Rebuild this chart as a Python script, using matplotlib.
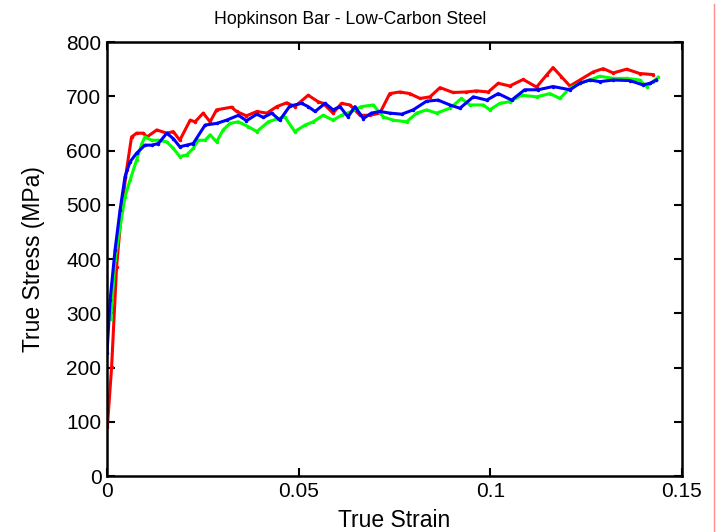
import matplotlib
matplotlib.use("Agg")
import matplotlib.pyplot as plt
from matplotlib.lines import Line2D

plt.rcParams["font.family"] = ["Liberation Sans", "DejaVu Sans"]

# traced curves: true strain / true stress (MPa)
red_strain = [0.0001, 0.0012, 0.0025, 0.0038, 0.0051, 0.0064, 0.0077, 0.0095, 0.0104,
              0.0130, 0.0156, 0.0173, 0.0190, 0.0217, 0.0230, 0.0251, 0.0269, 0.0286,
              0.0325, 0.0338, 0.0364, 0.0391, 0.0417, 0.0443, 0.0469, 0.0490, 0.0525,
              0.0551, 0.0564, 0.0590, 0.0612, 0.0634, 0.0660, 0.0686, 0.0712, 0.0738,
              0.0764, 0.0790, 0.0817, 0.0843, 0.0869, 0.0903, 0.0938, 0.0964, 0.0995,
              0.1021, 0.1051, 0.1086, 0.1121, 0.1147, 0.1164, 0.1186, 0.1208, 0.1234,
              0.1269, 0.1295, 0.1321, 0.1356, 0.1390, 0.1425]
red_stress = [91, 201, 386, 490, 564, 625, 632, 632, 625,
              638, 632, 635, 619, 656, 653, 669, 653, 675,
              680, 672, 664, 672, 669, 681, 688, 681, 702,
              690, 687, 669, 687, 684, 665, 665, 669, 705,
              708, 705, 696, 699, 716, 707, 708, 710, 708,
              724, 719, 731, 717, 739, 753, 736, 719, 730,
              745, 751, 743, 750, 742, 740]

green_strain = [0.0010, 0.0021, 0.0034, 0.0047, 0.0060, 0.0077, 0.0091, 0.0099, 0.0117,
                0.0134, 0.0156, 0.0173, 0.0190, 0.0208, 0.0225, 0.0238, 0.0256, 0.0269,
                0.0286, 0.0303, 0.0321, 0.0343, 0.0369, 0.0391, 0.0421, 0.0447, 0.0464,
                0.0490, 0.0517, 0.0538, 0.0564, 0.0590, 0.0612, 0.0638, 0.0664, 0.0695,
                0.0721, 0.0747, 0.0782, 0.0808, 0.0834, 0.0860, 0.0895, 0.0925, 0.0947,
                0.0982, 0.0999, 0.1025, 0.1051, 0.1082, 0.1121, 0.1156, 0.1182, 0.1208,
                0.1234, 0.1260, 0.1286, 0.1321, 0.1356, 0.1390, 0.1408, 0.1425, 0.1438]
green_stress = [290, 398, 459, 515, 545, 582, 613, 625, 619,
                619, 616, 604, 589, 592, 604, 619, 619, 629,
                616, 638, 650, 653, 644, 635, 653, 659, 662,
                635, 647, 653, 665, 656, 665, 672, 681, 684,
                662, 656, 653, 669, 675, 669, 678, 696, 684,
                684, 675, 687, 690, 702, 699, 705, 696, 715,
                724, 730, 737, 733, 733, 730, 718, 727, 735]

blue_strain = [0.0000, 0.0008, 0.0021, 0.0034, 0.0047, 0.0060, 0.0077, 0.0099, 0.0117,
               0.0134, 0.0156, 0.0173, 0.0190, 0.0208, 0.0225, 0.0256, 0.0286, 0.0312,
               0.0343, 0.0364, 0.0391, 0.0408, 0.0430, 0.0451, 0.0477, 0.0508, 0.0525,
               0.0543, 0.0569, 0.0590, 0.0608, 0.0629, 0.0647, 0.0669, 0.0690, 0.0712,
               0.0738, 0.0769, 0.0799, 0.0834, 0.0864, 0.0895, 0.0921, 0.0956, 0.0991,
               0.1021, 0.1056, 0.1090, 0.1125, 0.1164, 0.1208, 0.1234, 0.1260, 0.1286,
               0.1321, 0.1364, 0.1399, 0.1417, 0.1434]
blue_stress = [227, 324, 417, 490, 552, 579, 595, 610, 610,
               613, 632, 622, 607, 610, 613, 647, 650, 656,
               665, 655, 667, 661, 669, 656, 682, 687, 681,
               672, 687, 675, 681, 662, 681, 659, 669, 672,
               669, 667, 675, 691, 693, 684, 678, 699, 693,
               705, 693, 712, 712, 718, 712, 724, 730, 727,
               730, 729, 721, 724, 730]

x_ticks = [0, 0.05, 0.1, 0.15]
x_tick_labels = ["0", "0.05", "0.1", "0.15"]
y_ticks = [0, 100, 200, 300, 400, 500, 600, 700, 800]

fig = plt.figure(figsize=(7.23, 5.32), dpi=100)
ax = fig.add_axes([0.148, 0.105, 0.795, 0.816])

for xs, ys, col in [(red_strain, red_stress, "#ff0000"),
                    (green_strain, green_stress, "#00ff00"),
                    (blue_strain, blue_stress, "#0000ff")]:
    ax.plot(xs, ys, color=col, lw=2.2, marker=".", ms=3)

ax.set_xlim(0, 0.15)
ax.set_ylim(0, 800)
ax.set_xticks(x_ticks)
ax.set_xticklabels(x_tick_labels)
ax.set_yticks(y_ticks)
ax.tick_params(direction="in", length=6, width=1.5, labelsize=15,
               top=True, right=True, pad=4)
for s in ax.spines.values():
    s.set_linewidth(1.8)

# title sits left of the axes centre in the original
ax.set_title("Hopkinson Bar - Low-Carbon Steel", fontsize=12.7, pad=13,
             x=0.423)
ax.set_xlabel("True Strain", fontsize=16.5, labelpad=6)
ax.set_ylabel("True Stress (MPa)", fontsize=16.5, labelpad=15)

# thin red border line at the right edge of the original image
fig.add_artist(Line2D([0.9876, 0.9876], [0, 0.992], color="#ff8c8c", lw=1))

fig.savefig("out.png", dpi=100)
